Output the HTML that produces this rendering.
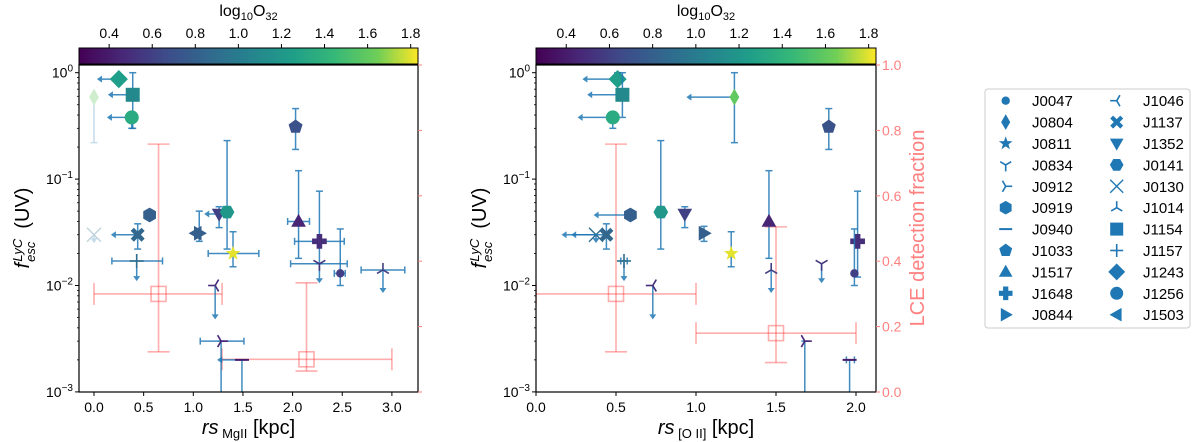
<!DOCTYPE html>
<html><head><meta charset="utf-8"><style>
body{margin:0;background:#fff;}
svg{display:block;font-family:"Liberation Sans","DejaVu Sans",sans-serif;}
</style></head><body>
<svg id="fig" width="1200" height="442" viewBox="0 0 1200 442" xmlns="http://www.w3.org/2000/svg"></svg>
<script>
// ---------- data ----------
const colorbarTicks = [0.4,0.6,0.8,1.0,1.2,1.4,1.6,1.8];
const yTickExps = [0,-1,-2,-3];
const fracTicks = [0.0,0.2,0.4,0.6,0.8,1.0];
const leftXTicks = [0.0,0.5,1.0,1.5,2.0,2.5,3.0];
const rightXTicks = [0.0,0.5,1.0,1.5,2.0];
const legendNames = ["J0047","J0804","J0811","J0834","J0912","J0919","J0940","J1033","J1517","J1648","J0844",
  "J1046","J1137","J1352","J0141","J0130","J1014","J1154","J1157","J1243","J1256","J1503"];

const L_names = ["J1243","J1154","J1256","J0804","J0130","J1033","J0919","J1137","J1157","J0844","J1503","J1352","J0141","J0811","J1046","J0912","J0940","J1517","J1648","J0834","J0047","J1014"];
const L_x = [0.25,0.39,0.38,0.0,0.0,2.03,0.56,0.44,0.43,1.06,1.03,1.26,1.34,1.40,1.22,1.28,1.49,2.06,2.27,2.27,2.48,2.91];
const L_y = [0.87,0.62,0.38,0.59,0.03,0.31,0.046,0.03,0.017,0.031,0.031,0.047,0.049,0.020,0.010,0.003,0.002,0.040,0.026,0.016,0.013,0.014];
const L_o32 = [1.25,1.1,1.35,1.6,0.9,0.7,0.8,0.85,0.9,0.8,0.8,0.6,1.2,1.8,0.5,0.45,0.4,0.45,0.5,0.55,0.6,0.6];
const L_xerr = [null,null,null,null,null,[2.0,2.06],null,null,[0.18,0.69],null,null,null,null,[1.15,1.66],null,[1.07,1.51],null,[1.95,2.17],[2.02,2.52],[1.98,2.55],[2.42,2.53],[2.69,3.13]];
const L_xlim = [0.03,0.14,0.13,null,null,null,null,0.17,null,null,null,1.11,null,null,null,null,1.24,null,null,null,null,null];
const L_yerr = [null,[0.3,1.0],[0.3,0.38],[0.22,0.59],null,[0.19,0.46],null,[0.022,0.038],null,[0.026,0.05],null,[0.035,0.055],[0.022,0.23],[0.015,0.032],null,[0.0009,0.003],[0.0009,0.002],[0.018,0.12],[0.016,0.077],null,[0.01,0.034],null];
const L_ylim = [null,null,null,null,0.025,null,null,null,0.011,null,null,null,null,null,0.0048,null,null,null,null,0.0105,null,0.0085];
const L_faded = ["J0804","J0130"];
const L_binX = [0.65,2.14];
const L_binFrac = [0.30,0.10];
const L_binXerr = [[0.0,1.29],[1.29,3.0]];
const L_binFerr = [[0.123,0.758],[0.064,0.334]];

const R_names = ["J1243","J1154","J1256","J0804","J0130","J1033","J0919","J1137","J1157","J0844","J1352","J0141","J0811","J1046","J0912","J0940","J1517","J1648","J0834","J0047","J1014"];
const R_x = [0.51,0.54,0.48,1.24,0.375,1.83,0.59,0.44,0.55,1.05,0.93,0.78,1.22,0.73,1.68,1.96,1.456,2.01,1.785,1.99,1.47];
const R_y = [0.87,0.62,0.38,0.59,0.03,0.31,0.046,0.03,0.017,0.031,0.047,0.049,0.020,0.010,0.003,0.002,0.040,0.026,0.016,0.013,0.014];
const R_o32 = [1.25,1.1,1.35,1.6,0.9,0.7,0.8,0.85,0.9,0.8,0.6,1.2,1.8,0.5,0.45,0.4,0.45,0.5,0.55,0.6,0.6];
const R_xerr = [null,null,null,null,null,null,null,null,[0.53,0.57],null,null,null,null,null,null,[1.94,1.99],null,null,null,null,null];
const R_xlim = [0.29,0.32,0.26,0.94,0.16,null,0.36,0.22,null,null,null,null,null,null,null,null,null,null,null,null,null];
const R_yerr = [[0.8,1.0],[0.38,1.0],[0.3,0.38],[0.22,1.0],null,[0.19,0.46],null,[0.022,0.038],null,[0.026,0.036],[0.035,0.055],[0.022,0.23],[0.015,0.032],null,[0.0009,0.003],[0.0009,0.002],[0.018,0.12],[0.012,0.077],null,[0.01,0.034],null];
const R_ylim = [null,null,null,null,0.025,null,null,null,0.011,null,null,null,null,0.0048,null,null,null,null,0.0105,null,0.0085];
const R_binX = [0.5,1.5];
const R_binFrac = [0.30,0.18];
const R_binXerr = [[0.0,1.0],[1.0,2.0]];
const R_binFerr = [[0.123,0.758],[0.09,0.505]];

const markerOf = {J0047:"osmall",J0804:"d",J0811:"*",J0834:"1",J0912:"4",J0919:"h",J0940:"_",J1033:"p",J1517:"^",J1648:"P",J0844:">",
  J1046:"3",J1137:"X",J1352:"v",J0141:"H",J0130:"x",J1014:"2",J1154:"s",J1157:"+",J1243:"D",J1256:"o",J1503:"<"};

// ---------- helpers ----------
const NS="http://www.w3.org/2000/svg";
const svg=document.getElementById("fig");
function mk(tag,attrs,parent){const e=document.createElementNS(NS,tag);for(const k in attrs)e.setAttribute(k,attrs[k]);(parent||svg).appendChild(e);return e;}
const vir=[[0,"#440154"],[0.13,"#482878"],[0.25,"#3e4a89"],[0.38,"#31688e"],[0.5,"#26828e"],[0.63,"#1f9e89"],[0.75,"#35b779"],[0.88,"#6ece58"],[1,"#fde725"]];
function hex(h){return [1,3,5].map(i=>parseInt(h.substr(i,2),16));}
function viridis(t){t=Math.max(0,Math.min(1,t));for(let i=1;i<vir.length;i++){if(t<=vir[i][0]){const a=vir[i-1],b=vir[i];const f=(t-a[0])/(b[0]-a[0]);const ca=hex(a[1]),cb=hex(b[1]);return "rgb("+ca.map((v,j)=>Math.round(v+(cb[j]-v)*f)).join(",")+")";}}return vir[8][1];}
const CMIN=0.26,CMAX=1.834;
function cmap(v){return viridis((v-CMIN)/(CMAX-CMIN));}
const YTOP=72.7,DEC=106.4,PT=65,PB=392;
function yS(v){return YTOP-Math.log10(v)*DEC;}
function fS(f){return PB-f*(PB-PT);}
const EB="#1f77b4";

function marker(shape,cx,cy,col,g,big){
  const s=big||7; let e;
  const poly=(pts)=>mk("polygon",{points:pts.map(p=>(cx+p[0])+","+(cy+p[1])).join(" "),fill:col},g);
  const lines=(segs,w)=>{const gg=mk("g",{stroke:col,"stroke-width":w||1.6,fill:"none"},g);segs.forEach(sg=>mk("line",{x1:cx+sg[0],y1:cy+sg[1],x2:cx+sg[2],y2:cy+sg[3]},gg));return gg;};
  const reg=(n,r,rot)=>{const p=[];for(let i=0;i<n;i++){const a=rot+i*2*Math.PI/n;p.push([r*Math.sin(a),-r*Math.cos(a)]);}return poly(p);};
  switch(shape){
    case "o": e=mk("circle",{cx,cy,r:s,fill:col},g);break;
    case "osmall": e=mk("circle",{cx,cy,r:4.2,fill:col},g);break;
    case "s": e=mk("rect",{x:cx-s,y:cy-s,width:2*s,height:2*s,fill:col},g);break;
    case "D": e=poly([[0,-s*1.3],[s*1.3,0],[0,s*1.3],[-s*1.3,0]]);break;
    case "d": e=poly([[0,-s*1.2],[s*0.7,0],[0,s*1.2],[-s*0.7,0]]);break;
    case "^": e=poly([[0,-s*1.1],[s*1.05,s*0.75],[-s*1.05,s*0.75]]);break;
    case "v": e=poly([[0,s*1.1],[s*1.05,-s*0.75],[-s*1.05,-s*0.75]]);break;
    case ">": e=poly([[s*1.1,0],[-s*0.75,-s*1.05],[-s*0.75,s*1.05]]);break;
    case "<": e=poly([[-s*1.1,0],[s*0.75,-s*1.05],[s*0.75,s*1.05]]);break;
    case "h": e=reg(6,s*1.05,0);break;
    case "H": e=reg(6,s*1.05,Math.PI/6);break;
    case "p": e=reg(5,s*1.05,0);break;
    case "*": {const p=[];for(let i=0;i<10;i++){const r=i%2?s*0.45:s*1.1;const a=i*Math.PI/5;p.push([r*Math.sin(a),-r*Math.cos(a)]);}e=poly(p);break;}
    case "P": {const a=s*0.4,b=s*1.05;e=poly([[-a,-b],[a,-b],[a,-a],[b,-a],[b,a],[a,a],[a,b],[-a,b],[-a,a],[-b,a],[-b,-a],[-a,-a]]);break;}
    case "X": {const a=s*0.45,b=s*1.0;const p=[[0,-a],[b-a,-b],[b,-b+a],[a,0],[b,b-a],[b-a,b],[0,a],[-b+a,b],[-b,b-a],[-a,0],[-b,-b+a],[-b+a,-b]];e=poly(p);break;}
    case "x": e=lines([[-s,-s,s,s],[-s,s,s,-s]],1.4);break;
    case "+": e=lines([[-s,0,s,0],[0,-s,0,s]],1.6);break;
    case "_": e=lines([[-s,0,s,0]],2);break;
    case "1": e=lines([[0,0,0,s],[0,0,-s*0.85,-s*0.5],[0,0,s*0.85,-s*0.5]]);break;
    case "2": e=lines([[0,0,0,-s],[0,0,-s*0.85,s*0.5],[0,0,s*0.85,s*0.5]]);break;
    case "3": e=lines([[0,0,-s,0],[0,0,s*0.5,-s*0.85],[0,0,s*0.5,s*0.85]]);break;
    case "4": e=lines([[0,0,s,0],[0,0,-s*0.5,-s*0.85],[0,0,-s*0.5,s*0.85]]);break;
  }
  return e;
}

function drawPanel(P){
  const panel=mk("g",{});
  
  
  const X0=P.x0,X1=P.x1;
  const xS=v=>P.xa+(v-P.xmin)*P.xk;
  const gid="vg"+P.id;
  const defs=mk("defs",{},panel);const lg=mk("linearGradient",{id:gid,x1:0,x2:1,y1:0,y2:0},defs);
  vir.forEach(s=>mk("stop",{offset:s[0],"stop-color":s[1]},lg));
  const cb=mk("rect",{x:X0,y:48,width:X1-X0,height:16,fill:"url(#"+gid+")",stroke:"#000","stroke-width":1},panel);
  
  
  const cS=v=>X0+(v-CMIN)/(CMAX-CMIN)*(X1-X0);
  colorbarTicks.forEach(t=>{mk("line",{x1:cS(t),x2:cS(t),y1:48,y2:44,stroke:"#000"},panel);
    const tx=mk("text",{x:cS(t),y:38,"font-size":14,"text-anchor":"middle"},panel);tx.textContent=t.toFixed(1);
    });
  const ct=mk("text",{x:(X0+X1)/2,y:16,"font-size":16,"text-anchor":"middle"},panel);
  
  ct.innerHTML='log<tspan font-size="11" dy="4">10</tspan><tspan dy="-4">O</tspan><tspan font-size="11" dy="4">32</tspan>';
  const cid="clip"+P.id;
  const cp=mk("clipPath",{id:cid},defs);mk("rect",{x:X0,y:PT,width:X1-X0,height:PB-PT},cp);
  const plot=mk("g",{"clip-path":"url(#"+cid+")"},panel);
  
  const red="rgba(255,60,60,0.42)";
  P.binX.forEach((bx,i)=>{
    const g=mk("g",{stroke:red,"stroke-width":1.6,fill:"none"},plot);
    
    const cx=xS(bx),cy=fS(P.binFrac[i]);
    const xa=xS(P.binXerr[i][0]),xb=xS(P.binXerr[i][1]),ya=fS(P.binFerr[i][0]),yb=fS(P.binFerr[i][1]);
    mk("line",{x1:xa,x2:xb,y1:cy,y2:cy},g);mk("line",{x1:xa,x2:xa,y1:cy-11,y2:cy+11},g);mk("line",{x1:xb,x2:xb,y1:cy-11,y2:cy+11},g);
    mk("line",{x1:cx,x2:cx,y1:ya,y2:yb},g);mk("line",{x1:cx-11,x2:cx+11,y1:ya,y2:ya},g);mk("line",{x1:cx-11,x2:cx+11,y1:yb,y2:yb},g);
    mk("rect",{x:cx-7.5,y:cy-7.5,width:15,height:15},g);
  });
  P.names.forEach((n,i)=>{
    const faded=(P.faded||[]).includes(n);
    const g=mk("g",{opacity:faded?0.3:1},plot);
    
    
    const cx=xS(P.x[i]),cy=yS(P.y[i]);
    const eg=mk("g",{stroke:EB,"stroke-width":1.5,fill:EB,opacity:0.85},g);
    if(P.xerr[i]){const a=xS(P.xerr[i][0]),b=xS(P.xerr[i][1]);mk("line",{x1:a,x2:b,y1:cy,y2:cy},eg);mk("line",{x1:a,x2:a,y1:cy-3.5,y2:cy+3.5},eg);mk("line",{x1:b,x2:b,y1:cy-3.5,y2:cy+3.5},eg);}
    if(P.yerr[i]){const a=yS(P.yerr[i][0]),b=yS(P.yerr[i][1]);mk("line",{x1:cx,x2:cx,y1:a,y2:b},eg);mk("line",{x1:cx-3.5,x2:cx+3.5,y1:a,y2:a},eg);mk("line",{x1:cx-3.5,x2:cx+3.5,y1:b,y2:b},eg);}
    if(P.xlim[i]!=null){const a=xS(P.xlim[i]);mk("line",{x1:a+4,x2:cx,y1:cy,y2:cy},eg);mk("polygon",{points:`${a},${cy} ${a+5},${cy-3.5} ${a+5},${cy+3.5}`,stroke:"none"},eg);}
    if(P.ylim[i]!=null){const a=yS(P.ylim[i]);mk("line",{x1:cx,x2:cx,y1:cy,y2:a-4},eg);mk("polygon",{points:`${cx},${a} ${cx-3.5},${a-5} ${cx+3.5},${a-5}`,stroke:"none"},eg);}
    marker(markerOf[n],cx,cy,cmap(P.o32[i]),g);
  });
  const fr=mk("rect",{x:X0,y:PT,width:X1-X0,height:PB-PT,fill:"none",stroke:"#000","stroke-width":1.2},panel);
  
  P.xticks.forEach(t=>{const x=xS(t);mk("line",{x1:x,x2:x,y1:PB,y2:PB+4,stroke:"#000"},panel);
    const tx=mk("text",{x,y:PB+20,"font-size":14,"text-anchor":"middle"},panel);tx.textContent=t.toFixed(1);
    });
  yTickExps.forEach(e=>{const y=yS(Math.pow(10,e));mk("line",{x1:X0,x2:X0-4,y1:y,y2:y,stroke:"#000"},panel);
    const tx=mk("text",{x:X0-6,y:y+5,"font-size":14,"text-anchor":"end"},panel);
    tx.innerHTML='10<tspan font-size="10" dy="-6">'+(e===0?'0':'\u2212'+(-e))+'</tspan>';
    
  });
  for(let e=-3;e<0;e++)for(let k=2;k<10;k++){const y=yS(k*Math.pow(10,e));mk("line",{x1:X0,x2:X0-2,y1:y,y2:y,stroke:"#000","stroke-width":0.8},panel);}
  fracTicks.forEach(f=>{const y=fS(f);mk("line",{x1:X1,x2:X1+4,y1:y,y2:y,stroke:"#ff8080"},panel);
    if(P.fracLabels){const tx=mk("text",{x:X1+6,y:y+5,"font-size":14,fill:"#ff8080"},panel);tx.textContent=f.toFixed(1);
      }});
  const yl=mk("text",{transform:`translate(${X0-50},228) rotate(-90)`,"font-size":20,"text-anchor":"middle"},panel);
  
  yl.innerHTML='<tspan font-style="italic">f</tspan><tspan font-size="13" font-style="italic" dy="6" dx="1">esc</tspan><tspan font-size="13" font-style="italic" dy="-13" dx="-20">LyC</tspan><tspan dy="7" dx="10">(UV)</tspan>';
  const xl=mk("text",{x:(X0+X1)/2,y:434,"font-size":20,"text-anchor":"middle"},panel);
  
  xl.innerHTML='<tspan font-style="italic">rs</tspan><tspan font-size="13" dy="4"> '+P.sub+'</tspan><tspan dy="-4"> [kpc]</tspan>';
  if(P.fracLabels){const rl=mk("text",{transform:`translate(${X1+48},228) rotate(-90)`,"font-size":20,"text-anchor":"middle",fill:"#ff8080"},panel);
    rl.textContent="LCE detection fraction";}
}

drawPanel({id:"left",x0:79,x1:418,xa:94,xmin:0,xk:99.3,xticks:leftXTicks,names:L_names,x:L_x,y:L_y,o32:L_o32,xerr:L_xerr,xlim:L_xlim,yerr:L_yerr,ylim:L_ylim,faded:L_faded,
  binX:L_binX,binFrac:L_binFrac,binXerr:L_binXerr,binFerr:L_binFerr,sub:"MgII",fracLabels:false});
drawPanel({id:"right",x0:536,x1:876,xa:536,xmin:0,xk:160,xticks:rightXTicks,names:R_names,x:R_x,y:R_y,o32:R_o32,xerr:R_xerr,xlim:R_xlim,yerr:R_yerr,ylim:R_ylim,faded:[],
  binX:R_binX,binFrac:R_binFrac,binXerr:R_binXerr,binFerr:R_binFerr,sub:"[O II]",fracLabels:true});

const lgG=mk("g",{});

mk("rect",{x:985,y:89,width:205,height:239,rx:3,fill:"#fff",stroke:"#ccc","stroke-width":1},lgG);
legendNames.forEach((n,i)=>{
  const col=Math.floor(i/11),row=i%11;
  const y=100.7+row*21.4;
  const e=mk("g",{},lgG);
  
  
  marker(markerOf[n],col?1116.7:1005.7,y,"#1f77b4",e,n==="J0047"?7:6.5);
  const t=mk("text",{x:col?1143:1032,y:y+5.5,"font-size":15},e);t.textContent=n;
});
</script>
</body></html>
